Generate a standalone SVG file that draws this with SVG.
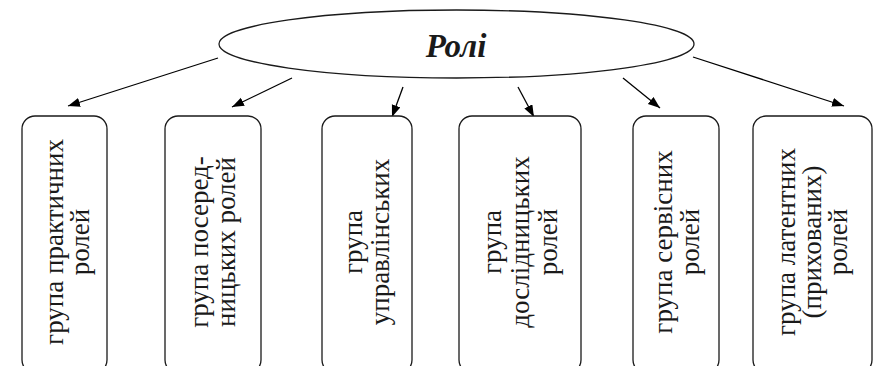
<svg xmlns="http://www.w3.org/2000/svg" width="876" height="366" viewBox="0 0 876 366">
<defs>
<marker id="ah" markerUnits="userSpaceOnUse" markerWidth="13" markerHeight="10" refX="12" refY="4.5" orient="auto">
<path d="M0,0 L12,4.5 L0,9 z" fill="#000"/>
</marker>
<style>
.box{fill:#fff;stroke:#1a1a1a;stroke-width:1.3}
.lbl{font-size:27px;fill:#1a1a1a;text-anchor:middle}
.title{font-size:33px;font-weight:bold;font-style:italic;fill:#1a1a1a;text-anchor:middle}
.con{stroke:#000;stroke-width:1.3;fill:none;marker-end:url(#ah)}
</style>
</defs>
<rect width="876" height="366" fill="#fff"/>
<g id="connectors">
<path class="con" d="M218,58 L68,106"/>
<path class="con" d="M292,78 L232,107"/>
<path class="con" d="M403,87 L392,117"/>
<path class="con" d="M518,87 L534,117"/>
<path class="con" d="M623,78 L660,108"/>
<path class="con" d="M693,57 L844,106"/>
</g>
<g font-family="Liberation Serif, Times New Roman, serif">
<g id="roles">
<ellipse class="box" cx="456.5" cy="44" rx="237.5" ry="34"/>
<text class="title" x="456" y="57">Ролі</text>
</g>
<g id="practical">
<rect class="box" x="22" y="116" width="85" height="257" rx="13"/>
<text class="lbl" transform="translate(0,242) rotate(-90)"><tspan x="0" y="63">група практичних</tspan><tspan x="0" y="89">ролей</tspan></text>
</g>
<g id="mediating">
<rect class="box" x="165" y="116" width="96" height="257" rx="13"/>
<text class="lbl" transform="translate(0,242) rotate(-90)"><tspan x="0" y="208">група посеред-</tspan><tspan x="0" y="235">ницьких ролей</tspan></text>
</g>
<g id="managerial">
<rect class="box" x="322" y="116" width="90" height="257" rx="13"/>
<text class="lbl" transform="translate(0,242) rotate(-90)"><tspan x="0" y="362">група</tspan><tspan x="0" y="389">управлінських</tspan></text>
</g>
<g id="research">
<rect class="box" x="459" y="116" width="122" height="257" rx="13"/>
<text class="lbl" transform="translate(0,242) rotate(-90)"><tspan x="0" y="501">група</tspan><tspan x="0" y="529">дослідницьких</tspan><tspan x="0" y="557">ролей</tspan></text>
</g>
<g id="service">
<rect class="box" x="633" y="116" width="86" height="257" rx="13"/>
<text class="lbl" transform="translate(0,242) rotate(-90)"><tspan x="0" y="672">група сервісних</tspan><tspan x="0" y="699">ролей</tspan></text>
</g>
<g id="latent">
<rect class="box" x="753" y="116" width="119" height="257" rx="13"/>
<text class="lbl" transform="translate(0,242) rotate(-90)"><tspan x="0" y="795">група латентних</tspan><tspan x="0" y="821">(прихованих)</tspan><tspan x="0" y="847">ролей</tspan></text>
</g>
</g>
</svg>
